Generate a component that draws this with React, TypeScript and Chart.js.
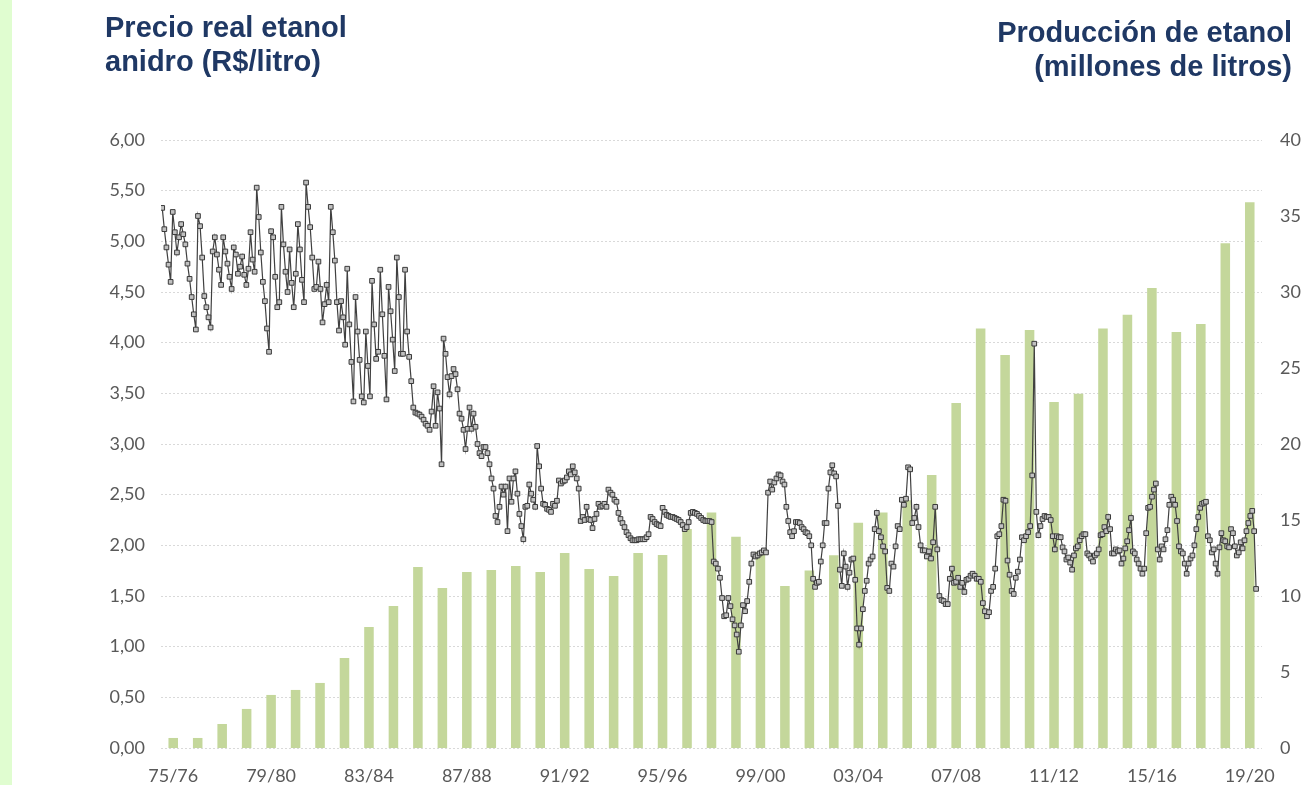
import React, { useEffect, useRef } from "react";
import { Chart, registerables } from "chart.js";

Chart.register(...registerables);

// Harvest seasons (bars)
const seasons = [
  "75/76", "76/77", "77/78", "78/79", "79/80", "80/81", "81/82", "82/83", "83/84", "84/85",
  "85/86", "86/87", "87/88", "88/89", "89/90", "90/91", "91/92", "92/93", "93/94", "94/95",
  "95/96", "96/97", "97/98", "98/99", "99/00", "00/01", "01/02", "02/03", "03/04", "04/05",
  "05/06", "06/07", "07/08", "08/09", "09/10", "10/11", "11/12", "12/13", "13/14", "14/15",
  "15/16", "16/17", "17/18", "18/19", "19/20",
];

// Ethanol production (millones de litros, thousands) per season
const production = [
  0.66, 0.66, 1.58, 2.57, 3.49, 3.82, 4.28, 5.92, 7.96, 9.34,
  11.91, 10.53, 11.58, 11.71, 11.97, 11.58, 12.83, 11.78, 11.32, 12.83,
  12.7, 14.4, 15.5, 13.9, 12.9, 10.66, 11.67, 12.68, 14.82, 15.5,
  16.3, 17.96, 22.7, 27.6, 25.86, 27.5, 22.76, 23.3, 27.6, 28.5,
  30.26, 27.37, 27.9, 33.2, 35.9,
];

// Monthly real price of anhydrous ethanol (R$/litro), in chronological blocks
const price1975 = [
  5.33, 5.12, 4.94, 4.77, 4.6, 5.29, 5.09, 4.89, 5.04, 5.17, 5.07, 4.97, 4.78, 4.63, 4.45, 4.28, 4.13,
  5.25, 5.15, 4.84, 4.46, 4.35, 4.25, 4.15, 4.9, 5.04, 4.87, 4.72, 4.57, 5.04, 4.9, 4.78, 4.65, 4.53,
  4.94, 4.87, 4.68, 4.75, 4.85, 4.67, 4.57,
];
const price1979 = [
  4.73, 5.09, 4.82, 4.7, 5.53, 5.24, 4.89, 4.6, 4.41, 4.14, 3.91, 5.1, 5.04, 4.65, 4.35, 4.4, 5.34,
  4.97, 4.7, 4.5, 4.92, 4.59, 4.35, 4.68, 5.17, 4.92, 4.62, 4.4, 5.58, 5.34, 5.14, 4.84, 4.53, 4.55,
  4.8, 4.53, 4.2, 4.38, 4.57, 4.4, 5.34, 5.09, 4.81, 4.4,
];
const price1983 = [
  4.12, 4.41, 4.25, 3.98, 4.73, 4.18, 3.81, 3.42, 4.45, 4.11, 3.83, 3.47, 3.41, 4.11, 3.77, 3.47,
  4.61, 4.18, 3.84, 3.91, 4.72, 4.28, 3.87, 3.44, 4.55, 4.31, 4.03, 3.72, 4.84, 4.45, 3.89, 3.89,
  4.72, 4.11, 3.86, 3.62, 3.36, 3.31, 3.3, 3.29,
];
const price1986 = [
  3.27, 3.24, 3.2, 3.18, 3.14, 3.32, 3.57, 3.18, 3.51, 3.35, 2.8, 4.04, 3.89, 3.66, 3.49, 3.67, 3.74,
  3.69, 3.54, 3.3, 3.25, 3.14, 2.95, 3.15, 3.36, 3.15, 3.3, 3.17, 3.0, 2.91, 2.88, 2.97, 2.97, 2.91,
  2.8, 2.66, 2.56, 2.29, 2.23, 2.38, 2.58, 2.5, 2.58, 2.14, 2.66,
];
const price1990 = [
  2.43, 2.66, 2.73, 2.51, 2.31, 2.19, 2.06, 2.38, 2.39, 2.6, 2.51, 2.45, 2.38, 2.98, 2.78, 2.56, 2.41,
  2.4, 2.36, 2.35, 2.33, 2.41, 2.39, 2.44, 2.64, 2.61, 2.63, 2.64, 2.67, 2.73, 2.7, 2.78, 2.72, 2.66,
  2.56, 2.24, 2.28, 2.25, 2.38, 2.26, 2.25, 2.17, 2.26, 2.31, 2.41, 2.38,
];
const price1994 = [
  2.39, 2.41, 2.38, 2.55, 2.52, 2.5, 2.45, 2.43, 2.32, 2.26, 2.22, 2.18, 2.13, 2.1, 2.07, 2.05, 2.05,
  2.05, 2.06, 2.06, 2.06, 2.06, 2.08, 2.11, 2.28, 2.26, 2.23, 2.21, 2.2, 2.19, 2.37, 2.33, 2.3, 2.29,
  2.28, 2.28, 2.27, 2.26, 2.25, 2.23, 2.2, 2.16, 2.18, 2.23,
];
const price1997 = [
  2.32, 2.33, 2.32, 2.31, 2.29, 2.27, 2.25, 2.24, 2.24, 2.24, 2.23, 1.84, 1.82, 1.77, 1.68, 1.48, 1.3,
  1.31, 1.48, 1.4, 1.27, 1.21, 1.12, 0.95, 1.21, 1.41, 1.35, 1.45, 1.64, 1.82, 1.91, 1.89, 1.9, 1.92,
  1.93, 1.95, 1.93, 2.52, 2.63, 2.55, 2.62, 2.66, 2.7,
];
const price2001 = [
  2.69, 2.63, 2.6, 2.38, 2.24, 2.13, 2.09, 2.14, 2.23, 2.23, 2.22, 2.18, 2.16, 2.13, 2.12, 2.09, 2.0,
  1.67, 1.59, 1.63, 1.64, 1.84, 2.0, 2.22, 2.22, 2.56, 2.72, 2.79, 2.71, 2.68, 2.39, 1.76, 1.6, 1.92,
  1.79, 1.59, 1.73, 1.86, 1.87, 1.66, 1.18, 1.02, 1.18, 1.37, 1.55, 1.65, 1.82,
];
const price2004 = [
  1.86, 1.89, 2.16, 2.32, 2.14, 2.08, 1.99, 1.94, 1.58, 1.55, 1.82, 1.79, 1.99, 2.19, 2.16, 2.45, 2.4,
  2.46, 2.77, 2.75, 2.22, 2.27, 2.38, 2.18, 2.0, 1.95, 1.95, 1.89, 1.94, 1.87, 2.03, 2.38, 1.96, 1.5,
  1.46, 1.45, 1.42, 1.42, 1.67, 1.77, 1.63, 1.64, 1.68,
];
const price2008 = [
  1.59, 1.63, 1.54, 1.66, 1.67, 1.7, 1.72, 1.7, 1.67, 1.67, 1.64, 1.43, 1.35, 1.3, 1.34, 1.55, 1.59,
  1.77, 2.09, 2.11, 2.19, 2.45, 2.44, 1.85, 1.71, 1.55, 1.52, 1.68, 1.74, 1.86, 2.08, 2.05, 2.09, 2.13,
  2.19, 2.69, 3.99, 2.33, 2.1, 2.19, 2.26, 2.29, 2.28, 2.28, 2.25, 2.09, 1.96,
];
const price2012 = [
  2.09, 2.08, 2.08, 1.98, 1.94, 1.86, 1.88, 1.83, 1.76, 1.9, 1.97, 1.99, 2.05, 2.09, 2.11, 2.11, 1.92,
  1.9, 1.87, 1.84, 1.9, 1.92, 1.96, 2.1, 2.11, 2.18, 2.14, 2.28, 2.16, 1.92, 1.92, 1.96, 1.94, 1.95,
  1.82, 1.87, 1.97, 2.04, 2.15, 2.27, 1.94, 1.92, 1.86, 1.82, 1.77, 1.72, 1.77,
];
const price2015 = [
  2.12, 2.37, 2.38, 2.48, 2.55, 2.61, 1.96, 1.86, 1.99, 1.96, 2.06, 2.15, 2.4, 2.48, 2.45, 2.4, 2.24,
  1.99, 1.94, 1.92, 1.82, 1.72, 1.82, 1.87, 1.9, 2.0, 2.16, 2.28, 2.37, 2.41, 2.42, 2.43, 2.09, 2.05,
  1.93, 1.96, 1.82, 1.72, 1.98, 2.12, 2.05, 2.04, 1.99, 1.98, 2.16, 2.12, 1.99, 1.9, 1.93, 2.03, 1.97,
  2.05, 2.14, 2.22, 2.29, 2.34, 2.14, 1.57,
];

// Date (months since the start of the 75/76 season) of each block's first reading, and of the last reading
const priceBlocks = [
  price1975, price1979, price1983, price1986, price1990, price1994,
  price1997, price2001, price2004, price2008, price2012, price2015,
];
const blockStartMonth = [0.6, 42.9, 87.3, 127.8, 171.9, 216.5, 259.8, 303.9, 348.0, 392.0, 439.4, 483.2];
const lastReadingMonth = 537.1;

const leftTicks = { min: 0, max: 6, step: 0.5 };
const rightTicks = { min: 0, max: 40, step: 5 };

const TICK_FONT = { family: "Lato, 'Open Sans', sans-serif", size: 18 };
const TICK_COLOR = "#595959";
const TITLE_COLOR = "#1f3864";

export default function App() {
  const ref = useRef<HTMLCanvasElement>(null);

  useEffect(() => {
    const points: { x: number; y: number }[] = [];
    priceBlocks.forEach((block, k) => {
      const start = blockStartMonth[k];
      const isLast = k === priceBlocks.length - 1;
      const end = isLast ? lastReadingMonth : blockStartMonth[k + 1];
      const step = isLast ? (end - start) / (block.length - 1) : (end - start) / block.length;
      block.forEach((v, j) => points.push({ x: start + j * step, y: v }));
    });

    const chart = new Chart(ref.current!, {
      type: "bar",
      data: {
        labels: seasons,
        datasets: [
          {
            type: "line",
            data: points,
            xAxisID: "xl",
            yAxisID: "y",
            borderColor: "#404040",
            borderWidth: 1.2,
            pointStyle: "rect",
            pointRadius: 3.3,
            pointBackgroundColor: "#c0c0c0",
            pointBorderColor: "#3a3a3a",
            pointBorderWidth: 1,
            tension: 0,
            order: 0,
          } as any,
          {
            type: "bar",
            data: production,
            xAxisID: "x",
            yAxisID: "y1",
            backgroundColor: "#c4d79b",
            categoryPercentage: 1,
            barPercentage: 0.39,
            grouped: false,
            order: 1,
          } as any,
        ],
      },
      options: {
        responsive: false,
        animation: false,
        layout: { padding: { top: 140, left: 0, right: 0, bottom: 0 } },
        plugins: { legend: { display: false }, tooltip: { enabled: false } },
        scales: {
          x: {
            type: "category",
            position: "bottom",
            offset: true,
            grid: { display: false, drawTicks: false },
            border: { display: false },
            ticks: {
              autoSkip: false,
              maxRotation: 0,
              padding: 17,
              color: TICK_COLOR,
              font: TICK_FONT,
              callback: (_v: any, i: number) => (i % 4 === 0 ? seasons[i] : ""),
            },
            afterFit: (s: any) => {
              s.height = 37;
            },
          },
          xl: {
            type: "linear",
            display: false,
            offset: false,
            grid: { offset: false },
            min: 0,
            max: seasons.length * 12,
          },
          y: {
            position: "left",
            min: leftTicks.min,
            max: leftTicks.max,
            ticks: {
              stepSize: leftTicks.step,
              padding: 16,
              color: TICK_COLOR,
              font: TICK_FONT,
              callback: (v: any) => Number(v).toFixed(2).replace(".", ","),
            },
            grid: { color: "#d9d9d9", drawTicks: false, lineWidth: 1 },
            border: { display: false, dash: [2, 2] },
            afterFit: (s: any) => {
              s.width = 161;
            },
          },
          y1: {
            position: "right",
            min: rightTicks.min,
            max: rightTicks.max,
            ticks: {
              stepSize: rightTicks.step,
              padding: 18,
              color: TICK_COLOR,
              font: TICK_FONT,
            },
            grid: { display: false, drawTicks: false },
            border: { display: false },
            afterFit: (s: any) => {
              s.width = 42;
            },
          },
        } as any,
      },
    });
    return () => chart.destroy();
  }, []);

  const titleStyle: React.CSSProperties = {
    position: "absolute",
    fontFamily: "'Liberation Sans', Arial, sans-serif",
    fontWeight: "bold",
    fontSize: 29,
    lineHeight: "34px",
    color: TITLE_COLOR,
    whiteSpace: "nowrap",
  };

  return (
    <div
      style={{
        position: "fixed",
        left: 0,
        top: 0,
        width: 1304,
        height: 785,
        background: "#ffffff",
        overflow: "hidden",
      }}
    >
      <div
        style={{ position: "absolute", left: 0, top: 0, width: 12, height: 785, background: "#e0fdd0" }}
      />
      <canvas
        ref={ref}
        width={1304}
        height={785}
        style={{ position: "absolute", left: 0, top: 0, width: 1304, height: 785, display: "block" }}
      />
      <div style={{ ...titleStyle, left: 105, top: 10 }}>
        Precio real etanol
        <br />
        anidro (R$/litro)
      </div>
      <div style={{ ...titleStyle, right: 12, top: 15, textAlign: "right" }}>
        Producción de etanol
        <br />
        (millones de litros)
      </div>
    </div>
  );
}
